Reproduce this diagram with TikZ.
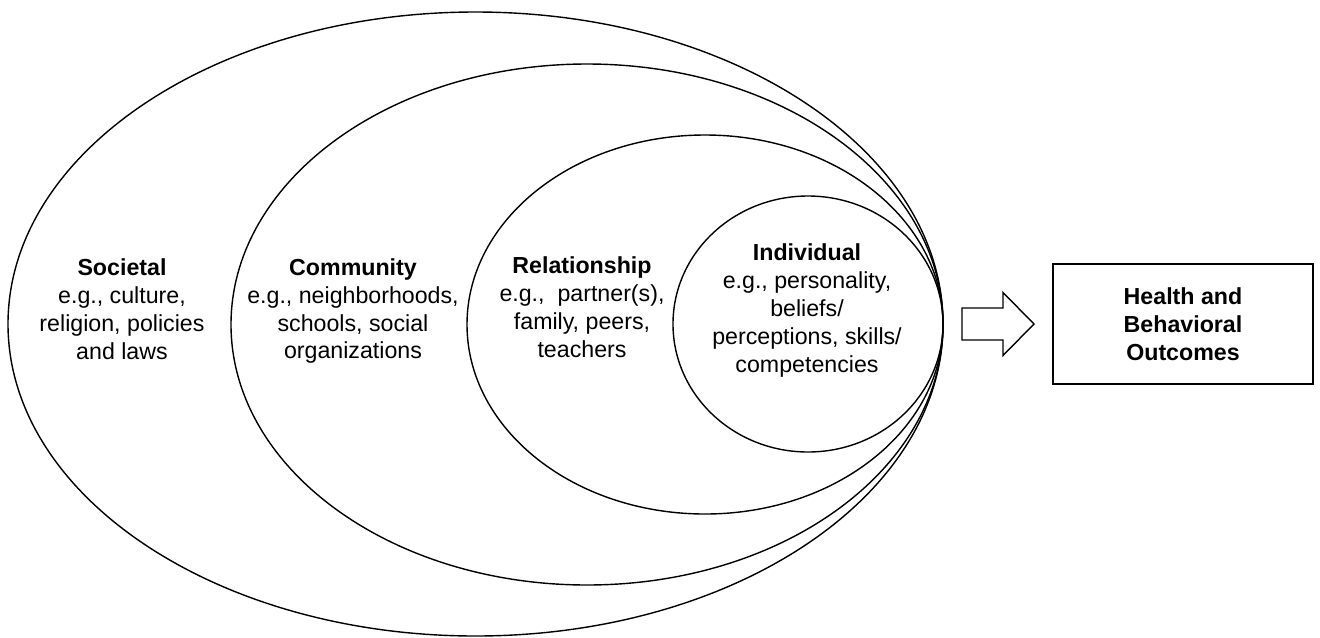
\documentclass[tikz,border=0pt]{standalone}
\usepackage{fontspec}
\setmainfont{Liberation Sans}

\begin{document}
\begin{tikzpicture}[x=0.02cm,y=-0.02cm,
				ring/.style={draw,line width=0.8pt},
				level text/.style={align=center,anchor=north,inner sep=0pt,
					font=\fontsize{13.2pt}{15.9pt}\selectfont},
				outcome node/.style={draw,line width=0.9pt,align=center,
					minimum width=5.2cm,minimum height=2.4cm,
					font=\fontsize{13.2pt}{15.9pt}\selectfont\bfseries}]
				
				\useasboundingbox (0,0) rectangle (1320,637);
				
				% nested levels, all touching at the right
				\draw[ring] (475.5,324) ellipse [x radius=467.5, y radius=312];
				\draw[ring] (587,324.5) ellipse [x radius=356, y radius=260.5];
				\draw[ring] (705,324.5) ellipse [x radius=238, y radius=189.5];
				\draw[ring] (808,324) ellipse [x radius=135, y radius=128];
				
				\node[level text] (societal) at (122,258.5) {\textbf{Societal}\\e.g., culture,\\religion, policies\\and laws};
				\node[level text] (community) at (353,258) {\textbf{Community}\\e.g., neighborhoods,\\schools, social\\organizations};
				\node[level text] (relationship) at (582,256.5) {\textbf{Relationship}\\e.g.,\ \ partner(s),\\family, peers,\\teachers};
				\node[level text] (individual) at (807,243.5) {\textbf{Individual}\\e.g., personality,\\beliefs/\\perceptions, skills/\\competencies};
				
				\node[outcome node] (outcomes) at (1183,324) {Health and\\Behavioral\\Outcomes};
				
				% block arrow
				\draw[line width=0.8pt] (962,308) -- (1003,308) -- (1003,292.5) -- (1034,324)
				-- (1003,355.5) -- (1003,340) -- (962,340) -- cycle;
				
\end{tikzpicture}
\end{document}
